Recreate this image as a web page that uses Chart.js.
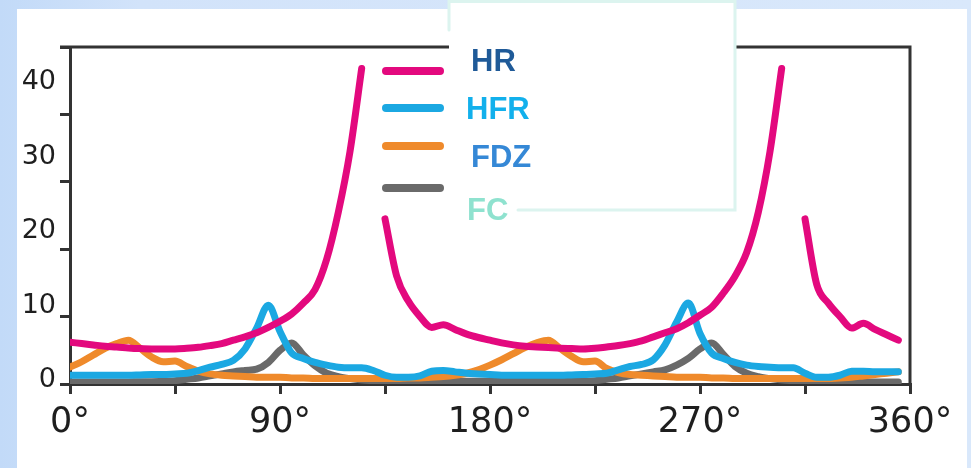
<!DOCTYPE html>
<html>
<head>
<meta charset="utf-8">
<script src="https://cdn.jsdelivr.net/npm/chart.js@4.4.1/dist/chart.umd.min.js"></script>
<style>
  html, body { margin: 0; padding: 0; }
  body {
    width: 971px; height: 468px; overflow: hidden; position: relative;
    background: linear-gradient(to right, #c2daf8 0px, #d2e3fa 140px, #d9e8fb 100%);
  }
  #panel { position: absolute; left: 17px; top: 9px; width: 950px; height: 459px; background: #fff; }
  #wrap { position: absolute; left: 0; top: 0; width: 971px; height: 468px; }
</style>
</head>
<body>
<div id="panel"></div>
<div id="wrap"><canvas id="myChart"></canvas></div>
<script>
// angle in degrees, one sample every 5°
const angles = [
  0, 5, 10, 15, 20, 25, 30, 35, 40, 45, 50, 55, 60, 65, 70, 75, 80, 85,
  90, 95, 100, 105, 110, 115, 120, 125, 130, 135, 140, 145, 150, 155, 160, 165, 170, 175,
  180, 185, 190, 195, 200, 205, 210, 215, 220, 225, 230, 235, 240, 245, 250, 255, 260, 265,
  270, 275, 280, 285, 290, 295, 300, 305, 310, 315, 320, 325, 330, 335, 340, 345, 350, 355, 360
];

const hr = [
  6.2, 6.0, 5.8, 5.6, 5.5, 5.35, 5.25, 5.2, 5.2, 5.2, 5.3, 5.45, 5.7, 6.0, 6.5, 7.0, 7.6, 8.4,
  9.3, 10.4, 12.0, 14.0, 18.5, 25.5, 34.5, 46.8, null, 24.5, 16.0, 12.3, 10.0, 8.4, 8.8, 8.1, 7.4, 6.9,
  6.5, 6.1, 5.8, 5.6, 5.5, 5.4, 5.3, 5.25, 5.2, 5.3, 5.5, 5.7, 6.0, 6.4, 7.0, 7.6, 8.2, 9.1,
  10.2, 11.4, 13.5, 16.0, 19.5, 25.5, 34.5, 46.8, null, 24.5, 14.8, 12.0, 10.0, 8.3, 9.0, 8.1, 7.3, 6.5, null
];

const hfr = [
  1.3, 1.3, 1.3, 1.3, 1.3, 1.3, 1.35, 1.4, 1.4, 1.5, 1.6, 2.0, 2.5, 2.9, 3.5, 5.2, 8.3, 11.7,
  7.8, 4.6, 3.8, 3.2, 2.8, 2.5, 2.4, 2.4, 2.0, 1.3, 1.0, 1.0, 1.2, 1.9, 2.0, 1.8, 1.6, 1.5,
  1.4, 1.3, 1.3, 1.3, 1.3, 1.3, 1.3, 1.35, 1.4, 1.5, 1.6, 2.1, 2.6, 2.9, 3.6, 5.8, 9.2, 12.0,
  7.5, 4.6, 3.8, 3.2, 2.8, 2.6, 2.5, 2.4, 2.4, 1.6, 1.0, 1.0, 1.3, 1.9, 1.9, 1.8, 1.8, 1.8, null
];

const fdz = [
  2.5, 3.3, 4.3, 5.3, 6.0, 6.5, 5.3, 4.0, 3.3, 3.4, 2.6, 1.9, 1.5, 1.3, 1.2, 1.1, 1.0, 1.0,
  1.0, 0.9, 0.9, 0.8, 0.8, 0.8, 0.8, 0.8, 0.8, 0.8, 0.8, 0.9, 0.9, 1.0, 1.1, 1.3, 1.6, 2.1,
  2.8, 3.6, 4.5, 5.4, 6.1, 6.5, 5.3, 4.1, 3.3, 3.4, 2.3, 1.7, 1.4, 1.3, 1.2, 1.1, 1.0, 1.0,
  1.0, 0.9, 0.9, 0.8, 0.8, 0.8, 0.8, 0.8, 0.8, 0.8, 0.8, 0.8, 0.9, 1.0, 1.2, 1.4, 1.6, 1.8, null
];

const fc = [
  0.3, 0.3, 0.3, 0.3, 0.3, 0.3, 0.35, 0.35, 0.4, 0.5, 0.7, 0.9, 1.2, 1.5, 1.8, 2.0, 2.2, 3.2,
  5.0, 6.1, 4.3, 2.7, 1.6, 1.1, 0.8, 0.6, 0.5, 0.4, 0.4, 0.4, 0.4, 0.4, 0.4, 0.4, 0.4, 0.4,
  0.4, 0.4, 0.4, 0.4, 0.4, 0.4, 0.4, 0.4, 0.4, 0.5, 0.7, 0.9, 1.2, 1.5, 1.8, 2.1, 2.8, 3.8,
  5.2, 6.1, 4.4, 2.6, 1.6, 1.1, 0.8, 0.6, 0.5, 0.4, 0.4, 0.4, 0.35, 0.35, 0.3, 0.3, 0.3, 0.3, null
];

const seriesNames = ['HR', 'HFR', 'FDZ', 'FC'];
const lineColors = ['#e3097e', '#1ba8e2', '#ef8a2b', '#6a6a6a'];
const legendTextColors = ['#1f5a98', '#12b0ec', '#3588d6', '#8fe2cf'];
const yTickLabels = [0, 10, 20, 30, 40];

const AXIS = '#333';
const TICK_FONT = '"DejaVu Sans", sans-serif';

function toPoints(values) {
  return angles.map((a, i) => ({ x: a, y: values[i] }));
}

// line samples sit on the plot, names live in the white box next to them
const sideLegend = {
  id: 'sideLegend',
  afterDraw(chart) {
    const ctx = chart.ctx;
    const swatchY = [71, 108, 146, 188];
    const textPos = [[471, 62], [466, 110], [471, 158], [467, 211]];
    ctx.save();
    chart.data.datasets.forEach((ds, i) => {
      ctx.strokeStyle = ds.borderColor;
      ctx.lineWidth = 8;
      ctx.lineCap = 'round';
      ctx.beginPath();
      ctx.moveTo(386, swatchY[i]);
      ctx.lineTo(440, swatchY[i]);
      ctx.stroke();
    });
    ctx.fillStyle = '#fff';
    ctx.fillRect(449, 0, 287, 211);
    ctx.strokeStyle = '#dcf4ef';
    ctx.lineWidth = 3;
    ctx.beginPath();
    ctx.moveTo(449, 30);
    ctx.lineTo(449, 1.5);
    ctx.lineTo(735, 1.5);
    ctx.lineTo(735, 210);
    ctx.lineTo(518, 210);
    ctx.stroke();
    ctx.font = 'bold 31px "Liberation Sans", Arial, sans-serif';
    ctx.textBaseline = 'middle';
    ctx.textAlign = 'left';
    seriesNames.forEach((name, i) => {
      ctx.fillStyle = legendTextColors[i];
      ctx.fillText(name, textPos[i][0], textPos[i][1]);
    });
    ctx.restore();
  }
};

// closes the plot box on the top and right sides
const frame = {
  id: 'frame',
  beforeDatasetsDraw(chart) {
    const { ctx, chartArea: a } = chart;
    ctx.save();
    ctx.strokeStyle = AXIS;
    ctx.lineWidth = 3;
    ctx.beginPath();
    ctx.moveTo(a.left - 10, a.top);
    ctx.lineTo(a.right, a.top);
    ctx.lineTo(a.right, a.bottom);
    ctx.stroke();
    ctx.restore();
  }
};

const datasets = [hr, hfr, fdz, fc].map((vals, i) => ({
  label: seriesNames[i],
  data: toPoints(vals),
  borderColor: lineColors[i],
  backgroundColor: lineColors[i],
  borderWidth: 7,
  pointRadius: 0,
  borderCapStyle: 'round',
  borderJoinStyle: 'round',
  cubicInterpolationMode: 'monotone',
  spanGaps: false,
  fill: false,
  yAxisID: 'y'
}));

const ctx = document.getElementById('myChart').getContext('2d');
const myChart = new Chart(ctx, {
  type: 'line',
  data: { datasets: datasets },
  options: {
    responsive: true,
    maintainAspectRatio: false,
    animation: false,
    layout: { padding: { left: 0, right: 61, top: 47, bottom: 0 } },
    plugins: {
      legend: { display: false },
      tooltip: { enabled: false }
    },
    scales: {
      x: {
        type: 'linear',
        min: 0,
        max: 360,
        afterFit: s => { s.height = 84; },
        border: { display: true, color: AXIS, width: 3 },
        grid: { drawOnChartArea: false, drawTicks: true, tickLength: 10, color: AXIS, lineWidth: 3 },
        ticks: {
          stepSize: 45,
          autoSkip: false,
          maxRotation: 0,
          padding: 8,
          color: '#1e1e1e',
          font: { size: 35, family: TICK_FONT },
          callback: v => (v % 90 === 0 ? v + '°' : '')
        }
      },
      y: {
        type: 'linear',
        position: 'left',
        weight: 0,
        min: 0,
        max: 50,
        afterFit: s => { s.width = 10; },
        border: { display: true, color: AXIS, width: 3 },
        grid: { drawOnChartArea: false, drawTicks: true, tickLength: 10, color: AXIS, lineWidth: 3 },
        ticks: { display: false, stepSize: 10 }
      },
      yLabels: {
        type: 'linear',
        position: 'left',
        weight: 1,
        min: -0.54,
        max: 44.7,
        afterFit: s => { s.width = 60; },
        afterBuildTicks: s => { s.ticks = yTickLabels.map(v => ({ value: v })); },
        border: { display: false },
        grid: { display: false, drawTicks: false },
        ticks: {
          padding: 4,
          color: '#1e1e1e',
          font: { size: 27, family: TICK_FONT }
        }
      }
    }
  },
  plugins: [frame, sideLegend]
});
</script>
</body>
</html>
